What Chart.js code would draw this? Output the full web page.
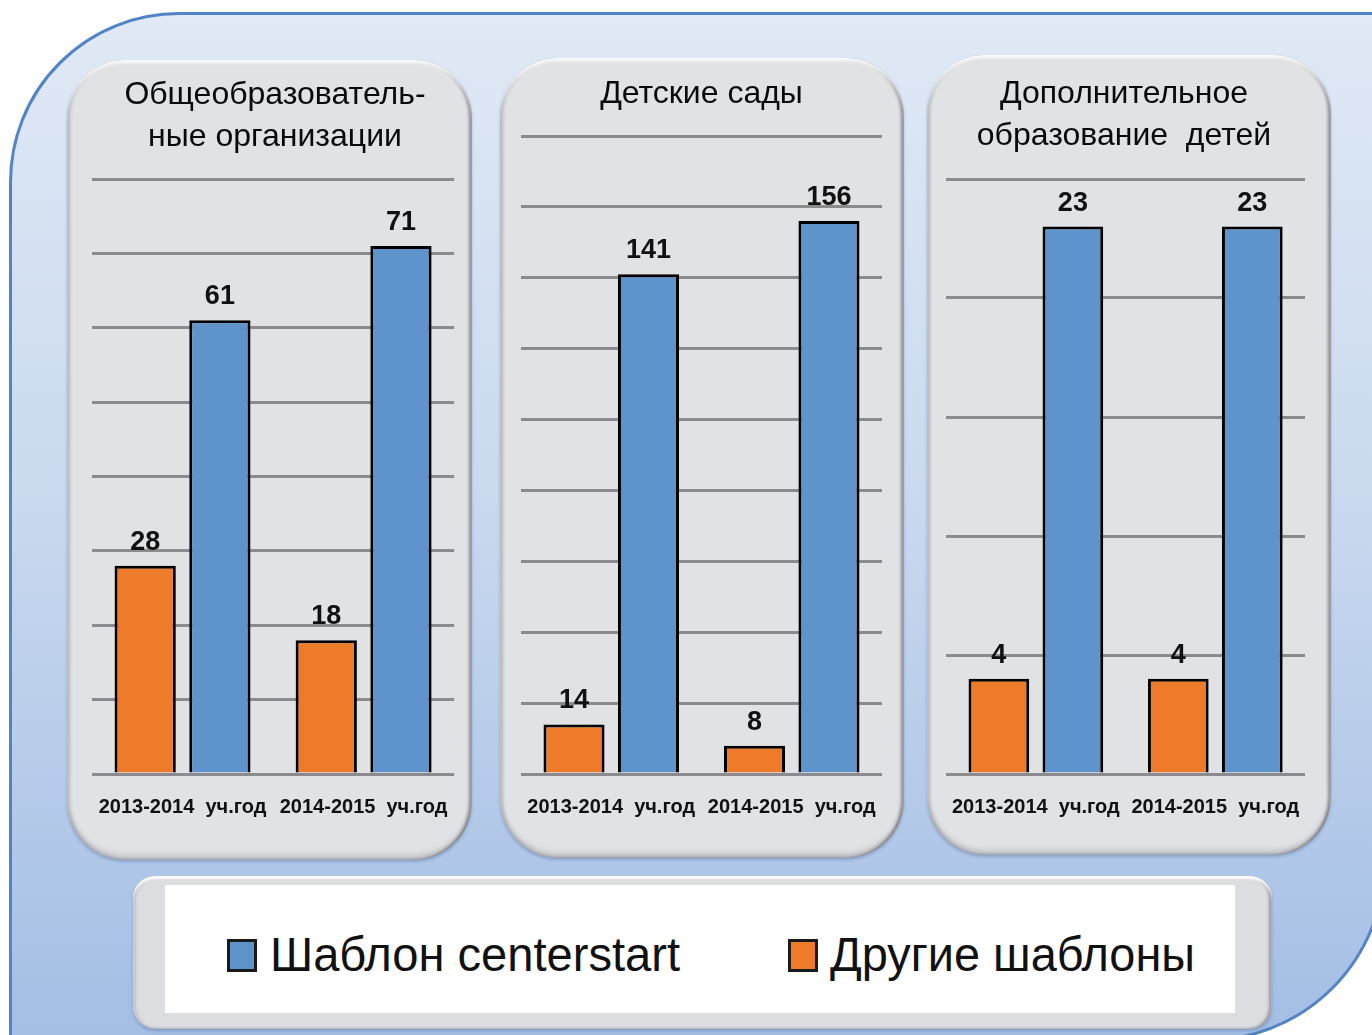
<!DOCTYPE html>
<html><head><meta charset="utf-8">
<script src="https://cdn.jsdelivr.net/npm/chart.js@4.4.0/dist/chart.umd.min.js"></script>
<style>
html,body{margin:0;padding:0;width:1372px;height:1035px;overflow:hidden;background:#fff;font-family:"Liberation Sans",Arial,sans-serif;}
#bg{position:absolute;left:9px;top:12px;width:1371px;height:1024px;border:3px solid #5283c5;border-radius:170px 0 180px 0;
 background:linear-gradient(#e0e9f5 0%,#cbdaef 45%,#a3bee4 100%);}
.panel{position:absolute;height:800px;border-radius:58px;background:#e1e2e4;
 box-shadow: inset 0 4px 3px -1px rgba(255,255,255,0.95), inset -3px 0 3px rgba(80,80,90,0.55), inset 3px 0 3px rgba(120,125,135,0.35), inset 0 -5px 5px rgba(130,135,145,0.35), 0 2px 3px rgba(70,100,150,0.35);}
.panel canvas{position:absolute;left:0;top:0;}
#legendBox{position:absolute;left:133px;top:876px;width:1139px;height:153px;border-radius:22px;background:#dcdde0;
 box-shadow: inset 0 3px 2px rgba(255,255,255,0.95), inset -3px 0 3px rgba(80,80,90,0.5), inset 3px 0 3px rgba(120,125,135,0.3), 0 2px 3px rgba(70,100,150,0.35);}
#legendInner{position:absolute;left:32px;top:9px;width:1070px;height:128px;background:#fff;}
.sw{position:absolute;width:30px;height:33px;box-sizing:border-box;border:3px solid #1a1a1a;}
.lt{position:absolute;font-size:48px;line-height:48px;color:#111;white-space:nowrap;transform-origin:0 0;}
</style></head>
<body>
<div id="bg"></div>
<div class="panel" style="left:67px;top:60px;width:405px;"><canvas id="c1" width="405" height="800"></canvas></div>
<div class="panel" style="left:500px;top:58px;width:404px;"><canvas id="c2" width="404" height="800"></canvas></div>
<div class="panel" style="left:927px;top:55px;width:404px;"><canvas id="c3" width="404" height="800"></canvas></div>
<div id="legendBox"><div id="legendInner"></div></div>
<div id="legend"></div>
<script>
// ---- data ----
const categories = ['2013-2014  уч.год', '2014-2015  уч.год'];
const seriesNames = ['Шаблон centerstart', 'Другие шаблоны'];
const titleSchools = ['Общеобразователь-', 'ные организации'];
const titleKindergartens = ['Детские сады'];
const titleExtra = ['Дополнительное', 'образование  детей'];
const schoolsCenterstart = [61, 71];
const schoolsOther = [28, 18];
const kindergartensCenterstart = [141, 156];
const kindergartensOther = [14, 8];
const extraCenterstart = [23, 23];
const extraOther = [4, 4];
const axisMax = [80, 180, 25];
const axisStep = [10, 20, 5];

const BLUE = '#5f93cb', ORANGE = '#ed7b29';
const FONT = '"Liberation Sans", Arial, sans-serif';

const valueLabels = {
  id: 'valueLabels',
  afterDatasetsDraw(chart) {
    const ctx = chart.ctx;
    ctx.save();
    ctx.font = 'bold 27px ' + FONT;
    ctx.fillStyle = '#111';
    ctx.textAlign = 'center';
    ctx.textBaseline = 'alphabetic';
    chart.data.datasets.forEach((ds, i) => {
      chart.getDatasetMeta(i).data.forEach((el, j) => {
        ctx.fillText(String(ds.data[j]), el.x, el.y - 16);
      });
    });
    ctx.restore();
  }
};

function makeChart(id, title, other, center, max, step, pad, titlePad) {
  return new Chart(document.getElementById(id), {
    type: 'bar',
    data: {
      labels: categories,
      datasets: [
        { label: seriesNames[1], data: other, backgroundColor: ORANGE, borderColor: '#000', borderWidth: 3 },
        { label: seriesNames[0], data: center, backgroundColor: BLUE, borderColor: '#000', borderWidth: 3 }
      ]
    },
    options: {
      responsive: false, animation: false, events: [],
      layout: { padding: pad },
      datasets: { bar: { categoryPercentage: 0.825, barPercentage: 0.82 } },
      plugins: {
        legend: { display: false }, tooltip: { enabled: false },
        title: { display: true, text: title, color: '#0a0a0a', padding: titlePad,
          font: { family: FONT, size: 32, weight: 'normal', lineHeight: '42px' } }
      },
      scales: {
        x: { grid: { display: false, drawTicks: false }, border: { display: false },
          ticks: { color: '#111', padding: 21, maxRotation: 0, autoSkip: false,
            font: { family: FONT, size: 20, weight: 'bold', lineHeight: 1.2 } } },
        y: { min: 0, max: max, ticks: { display: false, stepSize: step },
          grid: { color: '#8b8b8f', lineWidth: 3, drawTicks: false }, border: { display: false } }
      }
    },
    plugins: [valueLabels]
  });
}

makeChart('c1', titleSchools, schoolsOther, schoolsCenterstart, axisMax[0], axisStep[0],
  { left: 25, right: 14, top: 0, bottom: 20 }, { top: 14, bottom: 21 });
makeChart('c2', titleKindergartens, kindergartensOther, kindergartensCenterstart, axisMax[1], axisStep[1],
  { left: 21, right: 22, top: 0, bottom: 18 }, { top: 15, bottom: 21 });
makeChart('c3', titleExtra, extraOther, extraCenterstart, axisMax[2], axisStep[2],
  { left: 16, right: 26, top: 0, bottom: 15 }, { top: 18, bottom: 22 });

// ---- legend (HTML) ----
const legend = document.getElementById('legend');
const items = [
  { name: seriesNames[0], color: BLUE, sx: 227, tx: 270, w: 410 },
  { name: seriesNames[1], color: ORANGE, sx: 788, tx: 830, w: 365 }
];
items.forEach(it => {
  const sw = document.createElement('div');
  sw.className = 'sw'; sw.style.left = it.sx + 'px'; sw.style.top = '939px'; sw.style.background = it.color;
  legend.appendChild(sw);
  const t = document.createElement('span');
  t.className = 'lt'; t.textContent = it.name; t.style.left = it.tx + 'px'; t.style.top = '931px';
  legend.appendChild(t);
  const nat = t.getBoundingClientRect().width;
  t.style.transform = 'scaleX(' + (it.w / nat) + ')';
});
</script>
</body></html>
